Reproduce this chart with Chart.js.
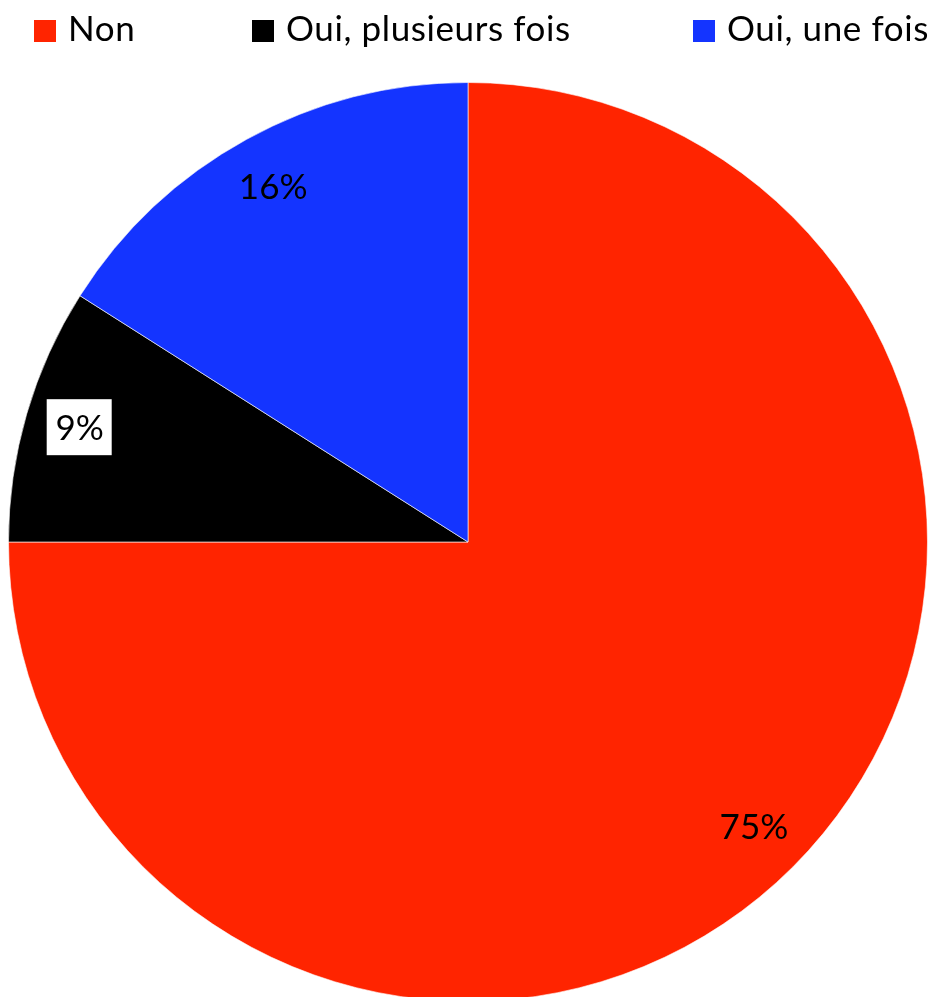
<!DOCTYPE html>
<html>
<head>
<meta charset="utf-8">
<script src="https://cdn.jsdelivr.net/npm/chart.js@4/dist/chart.umd.min.js"></script>
<style>
  html, body { margin: 0; padding: 0; background: #fff; overflow: hidden; }
  #wrap { position: relative; width: 935px; height: 997px; }
  #legend { position: absolute; top: 0; left: 0; width: 935px; height: 60px; font-family: Lato, sans-serif; font-size: 35px; letter-spacing: 0.6px; color: #000; }
  .item { position: absolute; top: 7px; white-space: nowrap; line-height: 40px; }
  .box { display: inline-block; width: 22px; height: 22px; margin-right: 12px; vertical-align: -1px; }
  canvas { position: absolute; top: 0; left: 0; }
</style>
</head>
<body>
<div id="wrap">
  <canvas id="pie" width="935" height="1010"></canvas>
  <div id="legend"></div>
</div>
<script>
const categories = ['Non', 'Oui, plusieurs fois', 'Oui, une fois'];
const percents = [75, 9, 16];
const colors = ['#ff2400', '#000000', '#1434ff'];

// legend drawn as html so each entry can sit where it should
const legendLeft = [34, 252, 693];
const legend = document.getElementById('legend');
categories.forEach((name, i) => {
  const el = document.createElement('div');
  el.className = 'item';
  el.style.left = legendLeft[i] + 'px';
  el.innerHTML = '<span class="box" style="background:' + colors[i] + '"></span>' + name;
  legend.appendChild(el);
});

// percentage labels near the outer edge of each slice
const sliceLabels = {
  id: 'sliceLabels',
  afterDatasetsDraw(chart) {
    const { ctx } = chart;
    const meta = chart.getDatasetMeta(0);
    ctx.save();
    ctx.font = '35px Lato, sans-serif';
    ctx.textAlign = 'center';
    ctx.textBaseline = 'middle';
    meta.data.forEach((arc, i) => {
      const { x, y, startAngle, endAngle, outerRadius } = arc.getProps(['x', 'y', 'startAngle', 'endAngle', 'outerRadius'], true);
      const mid = (startAngle + endAngle) / 2;
      const r = outerRadius * 0.88;
      const px = x + Math.cos(mid) * r;
      const py = y + Math.sin(mid) * r;
      const text = percents[i] + '%';
      if (colors[i] === '#000000') {
        ctx.fillStyle = '#ffffff';
        ctx.fillRect(px - 33, py - 30, 65, 56);
      }
      ctx.fillStyle = '#000000';
      ctx.fillText(text, px, py);
    });
    ctx.restore();
  }
};

new Chart(document.getElementById('pie'), {
  type: 'pie',
  data: {
    labels: categories,
    datasets: [{
      data: percents,
      backgroundColor: colors,
      borderColor: 'rgba(255,255,255,0.6)',
      borderWidth: 1
    }]
  },
  options: {
    responsive: false,
    animation: false,
    layout: { padding: { left: 8, right: 7, top: 82, bottom: 8 } },
    plugins: {
      legend: { display: false },
      tooltip: { enabled: false }
    }
  },
  plugins: [sliceLabels]
});
</script>
</body>
</html>
